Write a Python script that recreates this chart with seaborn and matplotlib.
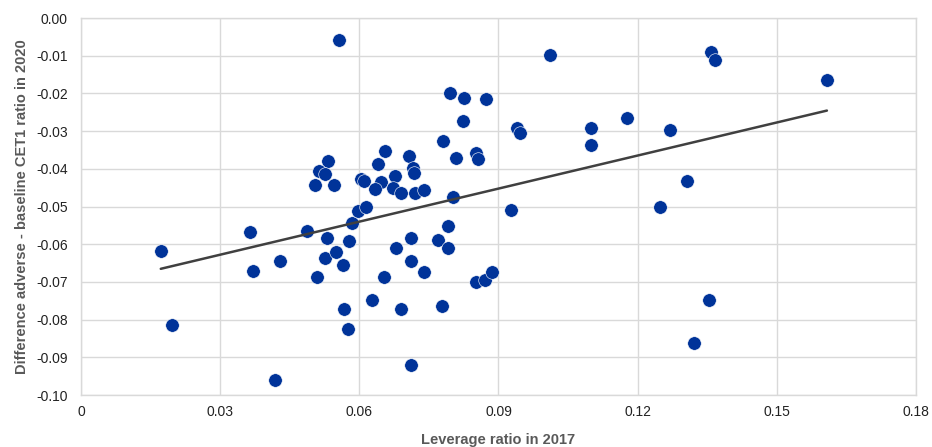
import matplotlib
matplotlib.use("Agg")
import matplotlib.pyplot as plt
import seaborn as sns
import pandas as pd
import numpy as np

# Leverage ratio in 2017 (x) and difference adverse - baseline CET1 ratio in 2020 (y)
leverage_2017 = [
    0.0172, 0.0196, 0.0364, 0.0371, 0.0429, 0.0418, 0.0487, 0.0509, 0.0526, 0.0530,
    0.0550, 0.0565, 0.0567, 0.0576, 0.0578, 0.0584, 0.0597, 0.0614, 0.0627, 0.0653,
    0.0679, 0.0690, 0.0711, 0.0711, 0.0711, 0.0739, 0.0769, 0.0778, 0.0791, 0.0791,
    0.0851, 0.0870, 0.0886, 0.0927, 0.0556, 0.0532, 0.0513, 0.0526, 0.0504, 0.0545,
    0.0604, 0.0610, 0.0655, 0.0640, 0.0677, 0.0647, 0.0634, 0.0673, 0.0690, 0.0707,
    0.0716, 0.0718, 0.0720, 0.0740, 0.0780, 0.0795, 0.0826, 0.0873, 0.0824, 0.0809,
    0.0852, 0.0856, 0.0802, 0.1011, 0.0940, 0.0947, 0.1099, 0.1099, 0.1358, 0.1367,
    0.1608, 0.1177, 0.1270, 0.1306, 0.1248, 0.1354, 0.1322,
]
cet1_diff_2020 = [
    -0.0617, -0.0814, -0.0568, -0.0671, -0.0645, -0.0960, -0.0565, -0.0687, -0.0637, -0.0584,
    -0.0621, -0.0655, -0.0772, -0.0825, -0.0591, -0.0544, -0.0512, -0.0501, -0.0748, -0.0687,
    -0.0610, -0.0772, -0.0584, -0.0645, -0.0920, -0.0674, -0.0588, -0.0764, -0.0610, -0.0552,
    -0.0700, -0.0695, -0.0674, -0.0509, -0.0058, -0.0379, -0.0405, -0.0414, -0.0443, -0.0443,
    -0.0427, -0.0433, -0.0353, -0.0388, -0.0419, -0.0434, -0.0453, -0.0451, -0.0464, -0.0367,
    -0.0397, -0.0412, -0.0463, -0.0456, -0.0325, -0.0199, -0.0211, -0.0216, -0.0274, -0.0372,
    -0.0359, -0.0375, -0.0474, -0.0098, -0.0291, -0.0306, -0.0291, -0.0338, -0.0089, -0.0112,
    -0.0165, -0.0264, -0.0296, -0.0432, -0.0501, -0.0748, -0.0863,
]

x_ticks = [0, 0.03, 0.06, 0.09, 0.12, 0.15, 0.18]
y_ticks = [-0.10, -0.09, -0.08, -0.07, -0.06, -0.05, -0.04, -0.03, -0.02, -0.01, 0.00]

df = pd.DataFrame({"leverage": leverage_2017, "cet1": cet1_diff_2020})

sns.set_style("white")
plt.rcParams["font.family"] = ["Liberation Sans", "DejaVu Sans"]

fig = plt.figure(figsize=(9.32, 4.47), dpi=100)
ax = fig.add_axes([0.0869, 0.1163, 0.8959, 0.8434])

# points
sns.scatterplot(data=df, x="leverage", y="cet1", ax=ax, color="#003399",
                s=95, edgecolor="white", linewidth=0.4, zorder=3)
# linear trend line
sns.regplot(data=df, x="leverage", y="cet1", ax=ax, scatter=False, ci=None,
            truncate=True, line_kws={"color": "#404040", "lw": 1.8, "zorder": 4})

ax.set_xlim(0, 0.18)
ax.set_ylim(-0.10, 0.0)
ax.set_xticks(x_ticks)
ax.set_yticks(y_ticks)
ax.set_xticklabels(["0" if v == 0 else f"{v:.2f}" for v in x_ticks])
ax.set_yticklabels([f"{abs(v):.2f}" if abs(v) < 1e-9 else f"{v:.2f}" for v in y_ticks])
ax.tick_params(axis="both", labelsize=10, colors="#222222", length=0)
ax.tick_params(axis="y", pad=9.5)
ax.tick_params(axis="x", pad=7)

ax.grid(True, color="#d9d9d9", linewidth=1)
ax.set_axisbelow(True)
for sp in ax.spines.values():
    sp.set_color("#d9d9d9")
    sp.set_linewidth(1)

ax.set_xlabel("Leverage ratio in 2017", fontsize=10.5, fontweight="bold",
              color="#595959", labelpad=10)
ax.set_ylabel("Difference adverse - baseline CET1 ratio in 2020", fontsize=10.5,
              fontweight="bold", color="#595959", labelpad=5)

fig.savefig("out.png", dpi=100)
